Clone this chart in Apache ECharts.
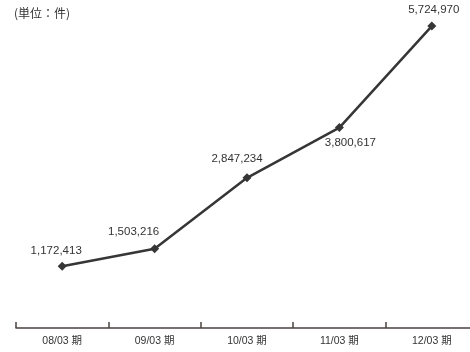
<!DOCTYPE html>
<html>
<head>
<meta charset="utf-8">
<script src="https://cdn.jsdelivr.net/npm/echarts@6/dist/echarts.min.js"></script>
<style>
  html, body { margin: 0; padding: 0; background: #fff; }
  #chart { width: 470px; height: 352px; }
</style>
</head>
<body>
<div id="chart"></div>
<script>
// Fiscal periods and yearly counts (件)
const periods = ['08/03 期', '09/03 期', '10/03 期', '11/03 期', '12/03 期'];
const counts = [1172413, 1503216, 2847234, 3800617, 5724970];
const unitLabel = '(単位：件)';

// Label placement per point
const labelPlacement = [
  { position: 'top', offset: [-6, 0] },
  { position: 'top', offset: [-21, -1] },
  { position: 'top', offset: [-10, -4] },
  { position: 'bottom', offset: [11, 0] },
  { position: 'top', offset: [2, -1] }
];

const fmt = v => v.toLocaleString('en-US');

const chart = echarts.init(document.getElementById('chart'), null, { renderer: 'canvas' });
chart.setOption({
  animation: false,
  backgroundColor: '#ffffff',
  graphic: [{
    type: 'text',
    left: 14,
    top: 7,
    style: {
      text: unitLabel,
      fontSize: 12,
      fill: '#333333',
      fontFamily: '"Noto Sans CJK JP", sans-serif'
    }
  }],
  grid: { left: 16, top: 20, width: 462, bottom: 24, containLabel: false, outerBoundsMode: 'none' },
  xAxis: {
    type: 'category',
    data: periods,
    boundaryGap: true,
    axisLine: { lineStyle: { color: '#4a4340', width: 1.5 } },
    axisTick: { show: true, inside: true, length: 6, alignWithLabel: false, lineStyle: { color: '#4a4340', width: 1.5 } },
    axisLabel: {
      color: '#333333',
      fontSize: 10.5,
      margin: 8,
      fontFamily: '"Liberation Sans", "Noto Sans CJK JP", sans-serif'
    }
  },
  yAxis: {
    type: 'value',
    min: 0,
    max: 5840000,
    show: false,
    splitLine: { show: false }
  },
  series: [{
    type: 'line',
    data: counts.map((v, i) => ({
      value: v,
      label: {
        show: true,
        position: labelPlacement[i].position,
        offset: labelPlacement[i].offset,
        distance: 5
      }
    })),
    symbol: 'diamond',
    symbolSize: 9,
    lineStyle: { color: '#363636', width: 2.5 },
    itemStyle: { color: '#363636' },
    label: {
      show: true,
      formatter: p => fmt(p.value),
      color: '#333333',
      fontSize: 11.5,
      fontFamily: '"Liberation Sans", Arial, sans-serif'
    }
  }]
});
</script>
</body>
</html>
